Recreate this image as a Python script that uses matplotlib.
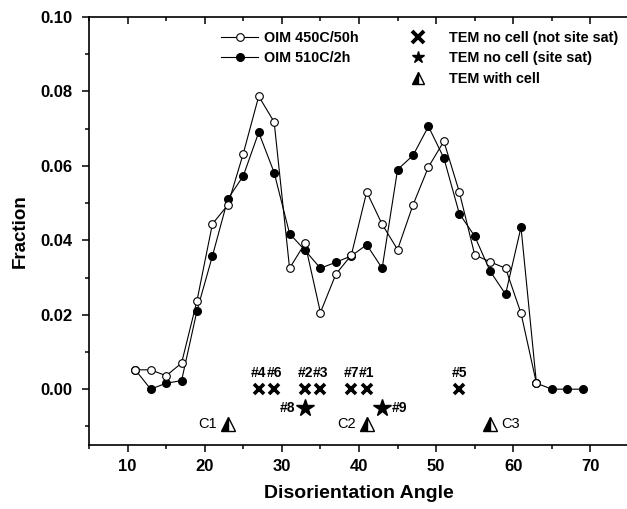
import numpy as np
import matplotlib
matplotlib.use("Agg")
import matplotlib.pyplot as plt
from matplotlib.lines import Line2D
from matplotlib.ticker import MultipleLocator

plt.rcParams["font.family"] = ["Liberation Sans", "DejaVu Sans"]
plt.rcParams["font.weight"] = "bold"

# ------------------------------------------------------------
# Data
# ------------------------------------------------------------
angle_450 = list(range(11, 64, 2))
frac_450 = [0.0052, 0.0052, 0.0036, 0.0070, 0.0238, 0.0444, 0.0495, 0.0633,
            0.0787, 0.0718, 0.0325, 0.0392, 0.0206, 0.0309, 0.0360, 0.0530,
            0.0443, 0.0375, 0.0495, 0.0597, 0.0666, 0.0530, 0.0361, 0.0342,
            0.0325, 0.0204, 0.0016]

angle_510 = list(range(11, 70, 2))
frac_510 = [0.0052, 0.0000, 0.0016, 0.0023, 0.0211, 0.0358, 0.0511, 0.0573,
            0.0690, 0.0582, 0.0418, 0.0373, 0.0325, 0.0341, 0.0358, 0.0388,
            0.0325, 0.0590, 0.0628, 0.0706, 0.0621, 0.0472, 0.0411, 0.0317,
            0.0255, 0.0435, 0.0016, 0.0000, 0.0000, 0.0000]

# TEM, no cell (not site saturated)
tem_x_angle = [27, 29, 33, 35, 39, 41, 53]
tem_x_frac = [0.0] * 7
tem_x_labels = ["#4", "#6", "#2", "#3", "#7", "#1", "#5"]

# TEM, no cell (site saturated)
tem_star_angle = [33, 43]
tem_star_frac = [-0.005, -0.005]
tem_star_labels = ["#8", "#9"]

# TEM with cell
tem_cell_angle = [23, 41, 57]
tem_cell_frac = [-0.0094, -0.0094, -0.0094]
tem_cell_labels = ["C1", "C2", "C3"]

# ------------------------------------------------------------
# Figure
# ------------------------------------------------------------
fig = plt.figure(figsize=(6.27, 5.09), dpi=100)
ax = fig.add_axes([89 / 627, 1 - 445 / 509, (629 - 89) / 627, (445 - 17) / 509])

ax.plot(angle_510, frac_510, "-o", color="black", lw=0.8, ms=5.5,
        mfc="black", mec="black", zorder=3)
ax.plot(angle_450, frac_450, "-o", color="black", lw=0.8, ms=5.5,
        mfc="white", mec="black", mew=0.8, zorder=4)

ax.plot(tem_x_angle, tem_x_frac, "x", color="black", ms=7, mew=2.6,
        ls="none", zorder=5)
for a, f, lab in zip(tem_x_angle, tem_x_frac, tem_x_labels):
    ax.text(a, f + 0.0043, lab, ha="center", va="center", fontsize=10,
            fontweight="bold")

ax.plot(tem_star_angle, tem_star_frac, "*", color="black", ms=13,
        ls="none", zorder=5)
ax.text(tem_star_angle[0] - 1.3, tem_star_frac[0], tem_star_labels[0],
        ha="right", va="center", fontsize=10, fontweight="bold")
ax.text(tem_star_angle[1] + 1.3, tem_star_frac[1], tem_star_labels[1],
        ha="left", va="center", fontsize=10, fontweight="bold")

ax.plot(tem_cell_angle, tem_cell_frac, "^", ms=10, ls="none",
        fillstyle="left", mfc="black", mfcalt="white", mec="black",
        mew=1.0, zorder=5)
for a, f, lab in zip(tem_cell_angle, tem_cell_frac, tem_cell_labels):
    if lab == "C3":
        ax.text(a + 1.4, f, lab, ha="left", va="center", fontsize=10.5,
                fontweight="normal")
    else:
        ax.text(a - 1.4, f, lab, ha="right", va="center", fontsize=10.5,
                fontweight="normal")

# ------------------------------------------------------------
# Axes styling
# ------------------------------------------------------------
ax.set_xlim(5, 75)
ax.set_ylim(-0.015, 0.10)
ax.xaxis.set_major_locator(MultipleLocator(10))
ax.xaxis.set_minor_locator(MultipleLocator(5))
ax.yaxis.set_major_locator(MultipleLocator(0.02))
ax.yaxis.set_minor_locator(MultipleLocator(0.01))
ax.set_xticks(range(10, 71, 10))
ax.set_yticks([0.0, 0.02, 0.04, 0.06, 0.08, 0.10])
ax.set_yticklabels(["0.00", "0.02", "0.04", "0.06", "0.08", "0.10"])

ax.tick_params(which="both", direction="out", top=True, right=True,
               labelsize=12, width=1.1)
ax.tick_params(which="major", length=5)
ax.tick_params(which="minor", length=3)
ax.tick_params(axis="y", pad=7)
ax.tick_params(axis="x", pad=5)
# top/right ticks point inward
for t in ax.xaxis.get_major_ticks() + ax.xaxis.get_minor_ticks():
    t.tick2line.set_marker(3)
for t in ax.yaxis.get_major_ticks() + ax.yaxis.get_minor_ticks():
    t.tick2line.set_marker(1)
for lab in ax.get_xticklabels() + ax.get_yticklabels():
    lab.set_fontweight("bold")
for sp in ax.spines.values():
    sp.set_linewidth(1.2)

ax.set_xlabel("Disorientation Angle", fontsize=14, fontweight="bold", labelpad=8)
ax.set_ylabel("Fraction", fontsize=13.5, fontweight="bold", labelpad=8)

# ------------------------------------------------------------
# Legends
# ------------------------------------------------------------
h_oim = [
    Line2D([], [], color="black", lw=0.8, marker="o", ms=5.5, mfc="white",
           mec="black", mew=0.8),
    Line2D([], [], color="black", lw=0.8, marker="o", ms=5.5, mfc="black"),
]
leg1 = ax.legend(h_oim, ["OIM 450C/50h", "OIM 510C/2h"], loc="upper left",
                 bbox_to_anchor=(0.22, 0.998), frameon=False, fontsize=10.4,
                 handlelength=2.6, handletextpad=0.4, labelspacing=0.45)
ax.add_artist(leg1)

h_tem = [
    Line2D([], [], ls="none", marker="x", color="black", ms=8, mew=2.8),
    Line2D([], [], ls="none", marker="*", color="black", ms=9),
    Line2D([], [], ls="none", marker="^", ms=8.5, fillstyle="left",
           mfc="black", mfcalt="white", mec="black", mew=1.0),
]
ax.legend(h_tem, ["TEM no cell (not site sat)", "TEM no cell (site sat)",
                  "TEM with cell"], loc="upper left",
          bbox_to_anchor=(0.565, 0.998), frameon=False, fontsize=10.4,
          handlelength=1.5, handletextpad=1.4, labelspacing=0.45)

fig.savefig("out.png", dpi=100)
